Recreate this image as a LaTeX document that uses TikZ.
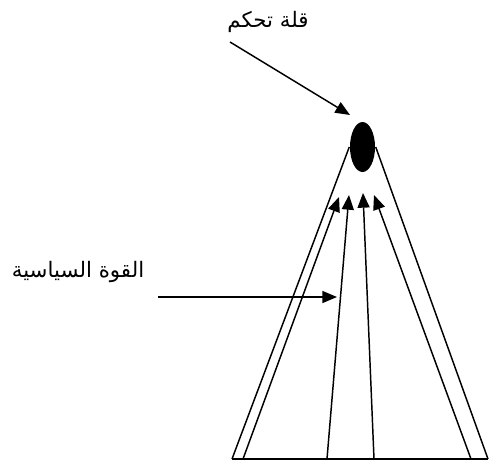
\documentclass[tikz,border=0pt]{standalone}
\usepackage{fontspec}
\newfontfamily\arabicfont[Script=Arabic]{DejaVu Sans}
\TeXXeTstate=1
\usetikzlibrary{arrows.meta,positioning,shapes.geometric}

\begin{document}
\begin{tikzpicture}[x=0.75pt,y=-0.75pt,line width=1.1pt,
  tip/.style={-{Triangle[length=11pt,width=9pt]}},
  arlabel/.style={font=\arabicfont\fontsize{16}{18}\selectfont,inner sep=0pt},
  summit/.style={ellipse,fill,inner sep=0pt,minimum width=18.75pt,minimum height=37.5pt}]
\useasboundingbox (0,0) rectangle (489,461);

\node[summit] (top) at (362.5,147) {};
\node[arlabel] (ctl) at (268,22) {\beginR قلة تحكم\endR};
\node[arlabel] (pol) at (78,272) {\beginR القوة السياسية\endR};

% base of the pyramid
\coordinate (bl) at (232,459);
\coordinate (br) at (488,459);
\draw (bl) -- (br);
\draw (bl) -- (top.west);
\draw (br) -- (top.east);

% rising arrows
\coordinate (a1) at (243,459);
\coordinate (a2) at (327,459);
\coordinate (a3) at (374,459);
\coordinate (a4) at (471,459);
\coordinate (t1) at (339,197);
\coordinate (t2) at (349,195);
\coordinate (t3) at (363,193);
\coordinate (t4) at (374,195);
\draw[tip] (a1) -- (t1);
\draw[tip] (a2) -- (t2);
\draw[tip] (a3) -- (t3);
\draw[tip] (a4) -- (t4);

% label pointers
\coordinate (ctlfoot) at (230,42);
\coordinate (ctltip) at (350,115);
\coordinate (polfoot) at (158,297);
\coordinate (poltip) at (337,297);
\draw[tip] (ctlfoot) -- (ctltip);
\draw[tip] (polfoot) -- (poltip);
\end{tikzpicture}
\end{document}
